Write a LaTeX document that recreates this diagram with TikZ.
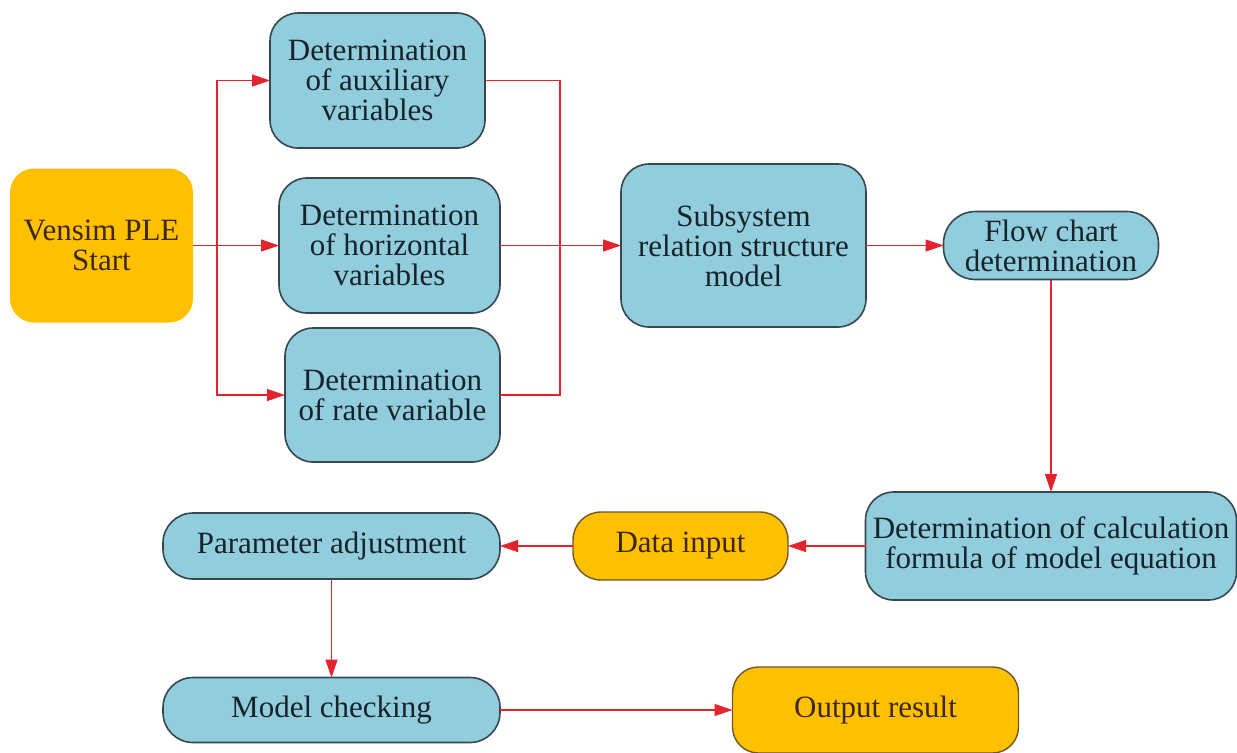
\documentclass[tikz,border=0pt]{standalone}
\usepackage{fontspec}
\setmainfont{Liberation Serif}
\newfontfamily\boxfont{Liberation Serif}
\usetikzlibrary{arrows.meta}
\definecolor{boxblue}{RGB}{146,205,221}
\definecolor{blueedge}{RGB}{52,72,78}
\definecolor{bluetext}{RGB}{22,36,42}
\definecolor{boxorange}{RGB}{255,192,0}
\definecolor{orangeedge}{RGB}{112,86,40}
\definecolor{orangetext}{RGB}{62,40,4}
\definecolor{flowred}{RGB}{228,36,44}
\tikzset{
  box/.style={rectangle, rounded corners=14pt, align=center, inner sep=0pt,
    outer sep=0pt, font=\boxfont\fontsize{15.5pt}{15pt}\selectfont},
  bluebox/.style={box, fill=boxblue, draw=blueedge, line width=0.8pt, text=bluetext},
  orangebox/.style={box, fill=boxorange, draw=orangeedge, line width=0.7pt, text=orangetext},
  startbox/.style={box, fill=boxorange, rounded corners=12pt, text=orangetext},
  link/.style={draw=flowred, line width=0.6pt},
  arr/.style={link, -{Triangle[length=9pt,width=6pt,fill=flowred]}}
}
\begin{document}
\begin{tikzpicture}[x=0.5pt,y=-0.5pt]
\useasboundingbox (0,0) rectangle (1237,752);

% first column: start and the three variable kinds
\node[startbox, minimum width=91.5pt, minimum height=77pt] (start) at (101.5,245.5) {Vensim PLE\\Start};
\node[bluebox, minimum width=107.5pt, minimum height=67.5pt] (aux) at (377.5,80.5) {Determination\\of auxiliary\\variables};
\node[bluebox, minimum width=110.5pt, minimum height=67.5pt] (horiz) at (389.5,245.5) {Determination\\of horizontal\\variables};
\node[bluebox, minimum width=107.5pt, minimum height=67pt] (rate) at (392.5,395) {Determination\\of rate variable};

% model building
\node[bluebox, minimum width=122.5pt, minimum height=81.5pt] (subsys) at (743.5,245.5) {Subsystem\\relation structure\\model};
\node[bluebox, minimum width=107.5pt, minimum height=34pt, rounded corners=16pt] (flow) at (1051,245.5) {Flow chart\\determination};
\node[bluebox, minimum width=185.5pt, minimum height=54pt] (calc) at (1051,546) {Determination of calculation\\formula of model equation};

% simulation steps
\node[orangebox, minimum width=107.5pt, minimum height=34pt] (data) at (680.5,546) {Data input};
\node[bluebox, minimum width=168.5pt, minimum height=33pt, rounded corners=15pt] (param) at (331.5,546) {Parameter adjustment};
\node[bluebox, minimum width=168.5pt, minimum height=32.5pt, rounded corners=15pt] (check) at (331.5,710) {Model checking};
\node[orangebox, minimum width=143pt, minimum height=43pt, rounded corners=13pt] (output) at (875.5,710) {Output result};

% branch and merge points
\coordinate (split) at (217,245.5);
\coordinate (merge) at (560,245.5);

% connectors
\draw[arr] (start.east) -- (horiz.west);
\draw[arr] (split) |- (aux.west);
\draw[arr] (split) |- (rate.west);
\draw[link] (aux.east) -| (merge) |- (rate.east);
\draw[arr] (horiz.east) -- (subsys.west);
\draw[arr] (subsys.east) -- (flow.west);
\draw[arr] (flow.south) -- (calc.north);
\draw[arr] (calc.west) -- (data.east);
\draw[arr] (data.west) -- (param.east);
\draw[arr, line width=0.9pt] (param.south) -- (check.north);
\draw[arr] (check.east) -- (output.west);
\end{tikzpicture}
\end{document}
